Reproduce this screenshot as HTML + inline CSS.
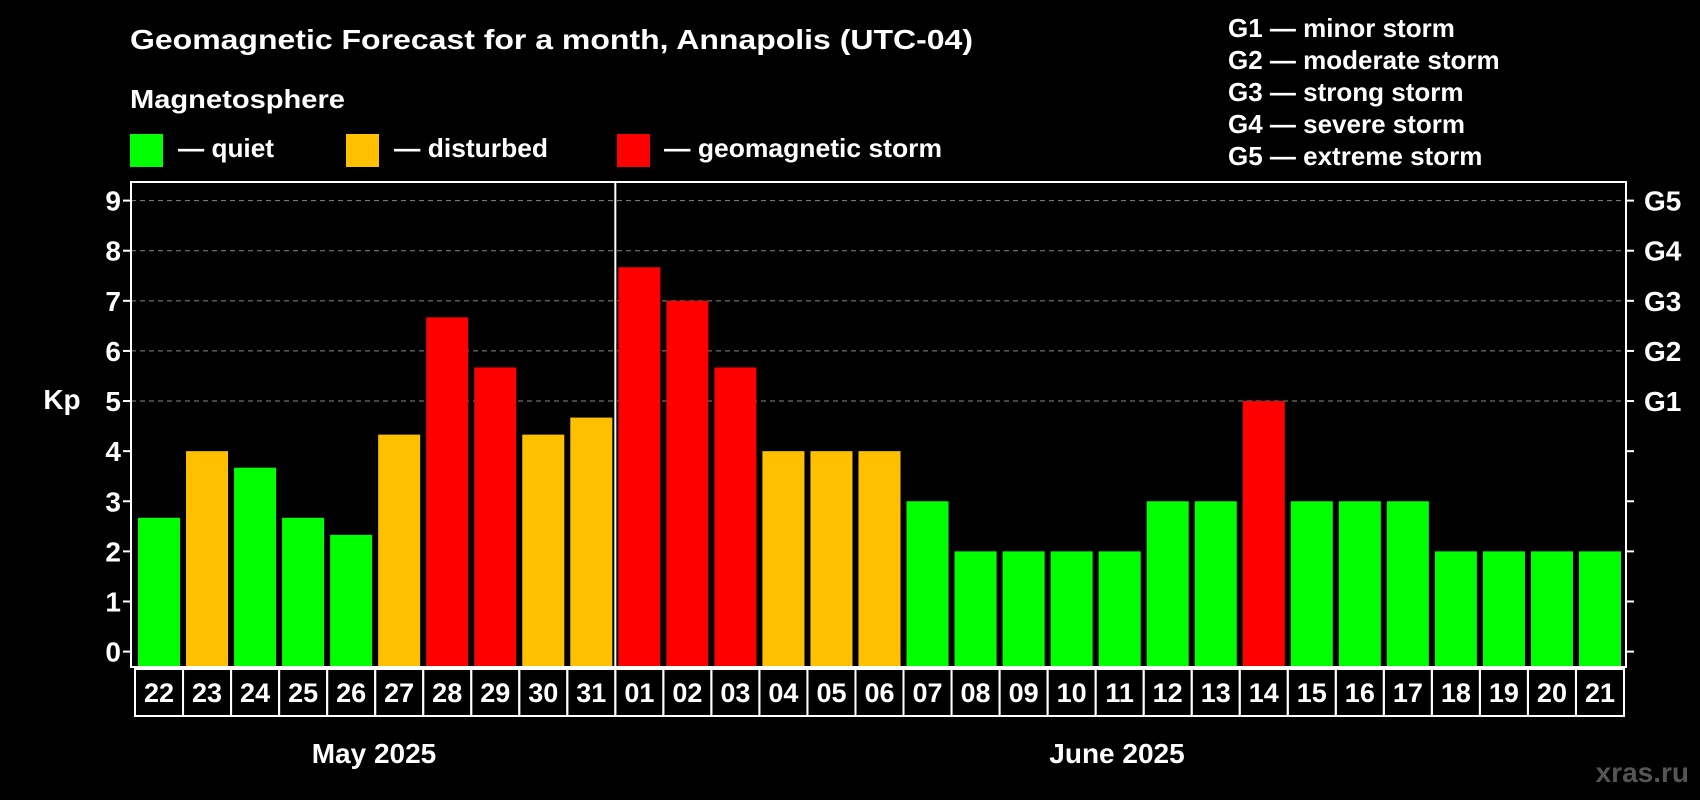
<!DOCTYPE html>
<html><head><meta charset="utf-8"><style>
html,body{margin:0;padding:0;background:#000;}
svg{display:block;font-family:"Liberation Sans",Arial,sans-serif;font-weight:bold;}
</style></head><body>
<svg id="chart" width="1700" height="800" viewBox="0 0 1700 800">
<rect width="1700" height="800" fill="#000"/>
<text x="130" y="49" font-size="28" fill="#fff" textLength="843" lengthAdjust="spacingAndGlyphs">Geomagnetic Forecast for a month, Annapolis (UTC-04)</text>
<text x="130" y="108" font-size="26" fill="#fff" textLength="215" lengthAdjust="spacingAndGlyphs">Magnetosphere</text>
<g>
<rect x="130" y="134" width="33" height="33" fill="#00ff00"/>
<text x="178" y="157" font-size="26" fill="#fff" textLength="96" lengthAdjust="spacingAndGlyphs">— quiet</text></g>
<g>
<rect x="346" y="134" width="33" height="33" fill="#ffc000"/>
<text x="394" y="157" font-size="26" fill="#fff" textLength="154" lengthAdjust="spacingAndGlyphs">— disturbed</text></g>
<g>
<rect x="617" y="134" width="33" height="33" fill="#ff0000"/>
<text x="664" y="157" font-size="26" fill="#fff" textLength="278" lengthAdjust="spacingAndGlyphs">— geomagnetic storm</text></g>
<g font-size="26" fill="#fff">
<text x="1228" y="37">G1 — minor storm</text>
<text x="1228" y="69">G2 — moderate storm</text>
<text x="1228" y="101">G3 — strong storm</text>
<text x="1228" y="133">G4 — severe storm</text>
<text x="1228" y="165">G5 — extreme storm</text>
</g>
<text x="62" y="409" font-size="28" fill="#fff" text-anchor="middle">Kp</text>
<g id="grid"></g><g id="bars"></g><g id="axes"></g>
<text x="374" y="763" font-size="28" fill="#fff" text-anchor="middle">May 2025</text>
<text x="1117" y="763" font-size="28" fill="#fff" text-anchor="middle">June 2025</text>
<text x="1689" y="782" font-size="28" fill="#555" text-anchor="end">xras.ru</text>
</svg>
<script>
const days = ["22","23","24","25","26","27","28","29","30","31","01","02","03","04","05","06","07","08","09","10","11","12","13","14","15","16","17","18","19","20","21"];
const kpValues = [2.67,4,3.67,2.67,2.33,4.33,6.67,5.67,4.33,4.67,7.67,7,5.67,4,4,4,3,2,2,2,2,3,3,5,3,3,3,2,2,2,2];
const yTicks = [0,1,2,3,4,5,6,7,8,9];
const gLabels = ["","","","","","G1","G2","G3","G4","G5"];
const monthSplitIndex = 10;

const NS="http://www.w3.org/2000/svg";
const L=131,R=1626,T=182,B=667;
const y0=651.6, yUnit=(651.6-200.6)/9;
const yS=v=>y0-v*yUnit;
const pitch=(R-L-6)/days.length;
const xS=i=>L+7+i*pitch;
const bw=pitch-6;
function mk(tag,attrs,parent){const e=document.createElementNS(NS,tag);for(const k in attrs)e.setAttribute(k,attrs[k]);parent.appendChild(e);return e;}
const grid=document.getElementById('grid'),bars=document.getElementById('bars'),axes=document.getElementById('axes');
function color(v){return v>=5?"#ff0000":(v>=4?"#ffc000":"#00ff00");}
yTicks.forEach((t,i)=>{
  const y=yS(t);
  if(t>=5){const g=mk('line',{x1:L,x2:R,y1:y,y2:y,stroke:'#888','stroke-width':1,'stroke-dasharray':'5,4'},grid);
  
  }
  mk('line',{x1:L-8,x2:L,y1:y,y2:y,stroke:'#fff','stroke-width':2},axes);
  mk('line',{x1:R,x2:R+8,y1:y,y2:y,stroke:'#fff','stroke-width':2},axes);
  const tx=mk('text',{x:L-10,y:y+10,'font-size':28,fill:'#fff','text-anchor':'end'},axes);
  tx.textContent=t;
  
  
  if(gLabels[i]){const gt=mk('text',{x:R+18,y:y+10,'font-size':28,fill:'#fff'},axes);
  gt.textContent=gLabels[i];
  
  }
});
kpValues.forEach((v,i)=>{
  const r=mk('rect',{x:xS(i),y:yS(v),width:bw,height:B-yS(v),fill:color(v)},bars);
  
  
});
mk('rect',{x:L,y:T,width:R-L,height:B-T,fill:'none',stroke:'#fff','stroke-width':2},axes);
const sx=xS(monthSplitIndex)-3;
const sl=mk('line',{x1:sx,x2:sx,y1:T,y2:B,stroke:'#fff','stroke-width':2},axes);


days.forEach((d,i)=>{
  const bx=xS(i)-3;
  const b=mk('rect',{x:bx,y:669,width:pitch,height:47,fill:'none',stroke:'#fff','stroke-width':2},axes);
  
  
  const t=mk('text',{x:bx+pitch/2,y:702,'font-size':27,fill:'#fff','text-anchor':'middle'},axes);
  t.textContent=d;
  
  
});
</script>
</body></html>
